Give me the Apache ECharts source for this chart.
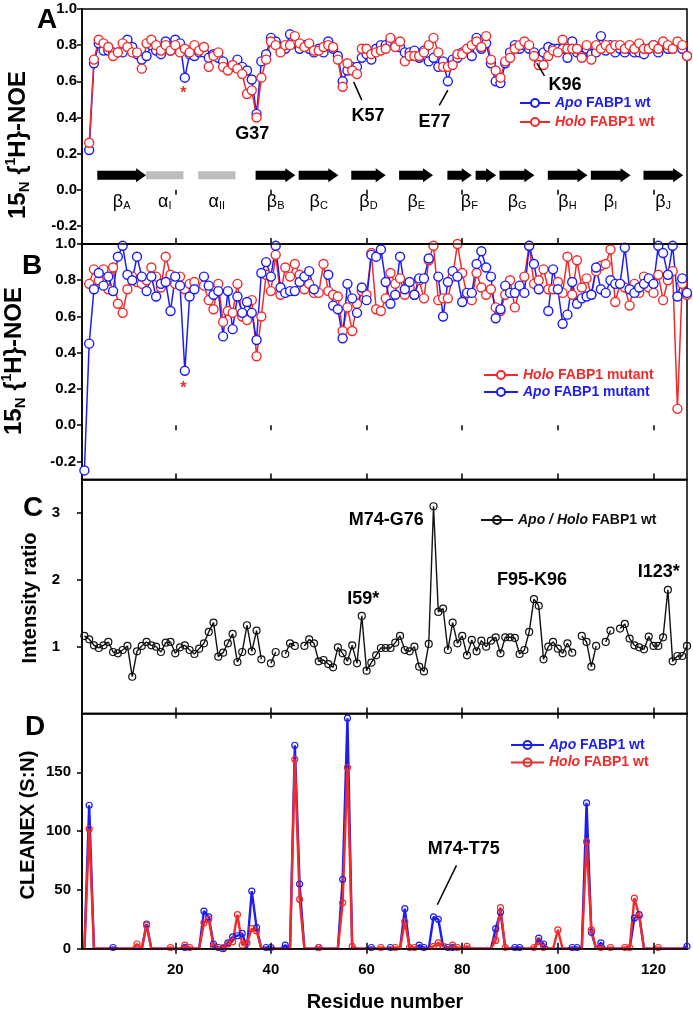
<!DOCTYPE html>
<html><head><meta charset="utf-8">
<script src="https://cdn.jsdelivr.net/npm/echarts@6/dist/echarts.min.js"></script>
<style>html,body{margin:0;padding:0;background:#fff}#c{width:693px;height:1012px}</style>
</head><body><div id="c"></div>
<script>
// ---------- DATA ----------
const residues = Array.from({length:127}, (_, i) => i + 1);
const xTicks = [20, 40, 60, 80, 100, 120];
const noeTicks = [-0.2, 0, 0.2, 0.4, 0.6, 0.8, 1.0];
const ratioTicks = [1, 2, 3];
const cleanexTicks = [0, 50, 100, 150];

const noeApoWt = [
 null,0.22,0.70,0.81,0.77,0.77,0.76,0.76,0.76,0.83,
 0.79,0.75,0.72,0.74,0.80,0.77,0.75,0.82,0.77,0.83,
 0.81,0.62,0.75,0.74,0.76,0.76,0.73,0.75,0.73,0.71,
 0.67,0.68,0.72,0.68,0.66,0.61,0.42,0.71,0.75,0.84,
 0.82,0.79,0.78,0.86,0.81,0.78,0.80,0.78,0.76,0.78,
 0.76,0.82,0.78,0.74,0.60,0.66,0.68,0.68,0.73,0.75,
 0.72,0.78,0.80,0.80,0.82,0.80,0.79,0.76,0.76,0.77,
 0.73,0.77,0.71,0.73,0.68,0.71,0.60,0.72,0.73,0.76,
 0.77,0.74,0.84,0.78,0.81,0.70,0.60,0.59,0.70,0.76,
 0.80,0.78,0.80,0.78,0.76,0.72,0.76,0.79,0.78,0.78,
 0.78,0.73,0.82,0.76,0.74,0.78,0.75,0.76,0.85,0.77,
 0.80,0.76,0.78,0.76,0.78,0.76,0.76,0.75,0.78,0.80,
 0.76,0.80,0.78,0.78,0.80,0.78,0.74];
const noeHoloWt = [
 null,0.26,0.72,0.83,0.81,0.79,0.74,0.76,0.81,0.79,
 0.76,0.76,0.67,0.81,0.83,0.80,0.77,0.80,0.77,0.80,
 0.76,0.78,0.76,0.80,0.77,0.79,0.68,0.74,0.76,0.68,
 0.66,0.69,0.67,0.64,0.53,0.55,0.40,0.62,0.72,0.82,
 0.80,0.76,0.80,0.80,0.85,0.81,0.79,0.81,0.77,0.77,
 0.79,0.80,0.79,0.72,0.57,0.70,0.66,0.64,0.78,0.78,
 0.75,0.76,0.77,0.78,0.84,0.79,0.82,0.71,0.74,0.74,
 0.74,0.76,0.80,0.84,0.76,0.68,0.68,0.69,0.75,0.75,
 0.78,0.80,0.82,0.79,0.85,0.72,0.66,0.62,0.71,0.73,
 0.78,0.80,0.82,0.80,0.74,0.69,0.69,0.74,0.77,0.76,
 0.83,0.78,0.78,0.78,0.73,0.80,0.72,0.80,0.78,0.80,
 0.78,0.80,0.80,0.78,0.80,0.78,0.81,0.78,0.78,0.80,
 0.78,0.82,0.80,0.78,0.82,0.80,0.74];
const noeHoloMut = [
 null,0.78,0.86,0.80,0.86,0.75,0.87,0.67,0.62,0.75,
 0.82,0.79,0.78,0.80,0.87,0.82,0.76,0.93,0.83,0.78,
 0.82,0.75,0.78,0.79,null,0.77,0.69,0.64,0.78,0.57,
 0.63,0.62,0.78,0.60,0.58,0.69,0.38,0.60,0.83,0.74,
 0.94,0.72,0.87,0.82,0.89,0.83,0.75,0.78,0.73,0.73,
 0.89,0.74,0.72,0.71,0.52,0.65,0.52,0.67,0.74,0.72,
 0.95,0.64,0.63,0.70,0.84,0.78,0.81,0.72,0.76,0.72,
 0.80,0.70,0.91,0.99,0.69,0.70,0.70,0.82,1.00,0.84,
 0.72,0.69,0.84,0.76,0.72,0.75,0.65,0.63,0.72,0.80,
 0.65,0.75,0.82,0.99,0.78,0.80,0.86,0.75,0.75,0.79,
 0.73,0.93,0.72,0.91,0.76,0.81,0.72,0.85,0.88,0.89,
 0.97,0.68,0.78,0.76,0.66,0.78,0.73,0.82,0.76,0.73,
 0.83,0.69,0.80,0.85,0.09,0.78,0.72];
const noeApoMut = [
 -0.25,0.45,0.75,0.84,0.77,0.82,0.74,0.93,0.99,0.83,
 0.80,0.93,0.82,0.74,0.82,0.71,0.78,0.79,0.63,0.82,
 0.77,0.30,0.71,0.75,null,0.82,0.77,0.72,0.74,0.49,
 0.74,0.53,0.71,0.62,0.68,0.62,0.47,0.84,0.90,0.82,
 0.99,0.76,0.73,0.74,0.74,0.79,0.82,0.85,0.75,null,
 null,0.83,0.66,0.64,0.48,0.78,0.70,0.62,0.76,0.69,
 0.94,0.93,0.97,0.79,0.67,0.72,0.93,0.75,0.79,0.72,
 0.81,0.81,0.92,null,0.82,0.60,0.79,0.85,0.82,0.68,
 0.73,0.73,0.89,0.96,0.87,0.82,0.59,0.64,0.77,0.73,
 0.73,0.77,0.73,0.99,0.89,0.75,null,0.63,0.86,0.75,
 0.56,0.61,0.79,0.67,0.70,0.71,0.72,0.87,0.75,0.73,
 0.80,0.78,0.78,0.98,0.75,0.73,0.76,0.78,0.81,0.78,
 0.99,0.95,0.83,0.99,0.71,0.81,0.73];
const intensityRatio = [
 1.16,1.11,1.02,0.98,1.02,1.07,0.92,0.90,0.95,1.01,
 0.55,0.93,1.01,1.07,1.02,1.00,0.92,1.06,1.07,0.90,
 0.99,1.02,0.95,0.89,0.97,1.05,1.22,1.36,0.85,0.91,
 1.05,1.19,0.77,0.92,1.32,0.93,1.24,0.81,null,0.75,
 0.92,null,0.89,1.05,1.01,null,1.01,1.11,1.05,0.78,
 0.80,0.74,0.69,0.99,0.90,0.78,1.02,0.75,1.46,0.64,
 0.76,0.87,0.98,0.98,0.98,1.06,1.16,0.95,0.93,1.00,
 0.70,0.63,1.04,3.10,1.52,1.57,0.95,1.36,1.05,1.16,
 0.87,1.10,0.93,1.09,1.00,1.09,1.14,0.90,1.14,1.14,
 1.13,0.89,0.95,1.22,1.71,1.61,0.81,1.00,1.07,0.97,
 0.90,1.05,0.91,null,1.16,1.07,0.70,1.01,null,1.07,
 1.24,null,1.27,1.34,1.12,1.02,0.99,0.96,1.15,1.01,
 1.01,1.14,1.85,0.78,0.86,0.86,1.01];
// null = no measurable exchange (drawn on the baseline without a marker)
const cleanexApo = [
 null,122,null,null,null,null,1,null,null,null,
 null,null,null,21,null,null,null,null,null,null,
 null,1,null,null,null,32,27,4,1,0,
 5,10,11,13,null,49,18,null,1,1,
 null,null,3,null,173,55,null,null,null,1,
 null,null,null,null,59,196,null,null,null,null,
 1,null,null,null,1,null,null,34,null,null,
 3,1,null,27,25,2,1,1,null,null,
 null,null,null,null,null,null,17,31,null,null,
 1,1,null,null,null,9,4,null,null,null,
 null,null,1,1,null,124,14,null,5,null,
 null,null,null,null,null,26,29,null,null,null,
 null,null,null,null,null,null,2];
const cleanexHolo = [
 null,102,null,null,null,null,null,null,null,null,
 null,4,null,20,null,null,null,null,1,null,
 null,3,1,null,null,22,25,2,null,1,
 4,6,29,3,5,17,15,null,null,null,
 null,null,null,null,161,42,null,null,null,1,
 null,null,null,null,39,154,2,null,null,null,
 null,null,1,null,null,1,null,23,1,1,
 null,null,null,2,5,2,null,3,1,null,
 2,null,null,null,null,null,7,35,1,null,
 null,null,null,null,1,6,1,null,null,16,
 null,null,null,null,null,91,16,null,1,null,
 1,null,null,1,1,43,28,null,null,null,
 1,null,null,null,null,null,null];
// secondary structure: [kind, first residue, last residue]
const ssSegments = [
 ['b',3.7,13.9],['a',13.9,21.7],['a',24.8,32.6],['b',36.8,45.1],['b',45.8,54.1],
 ['b',56.8,64],['b',66.8,73.9],['b',76.9,82],['b',82.8,87.1],['b',87.8,95.1],
 ['b',97.9,106.2],['b',106.9,115.2],['b',117.9,126.2]];
const ssLabels = [
 ['β','A',8.8],['α','I',17.8],['α','II',28.7],['β','B',41],['β','C',50],['β','D',60.4],
 ['β','E',70.4],['β','F',81.5],['β','G',91.5],['β','H',102],['β','I',111],['β','J',122]];

// ---------- LAYOUT / STYLE ----------
const BLUE = '#1d1df2', RED = '#f22a2a', INK = '#000';
const FONT = 'Arial, "Liberation Sans", sans-serif';
const GL = 82, GW = 605;
const grids = [
 {left:GL, width:GW, top:9, height:235},
 {left:GL, width:GW, top:244, height:235.5},
 {left:GL, width:GW, top:479.5, height:234},
 {left:GL, width:GW, top:713.5, height:235.2}
].map(g => Object.assign(g, {show:true, borderColor:'#000', borderWidth:1.5, backgroundColor:'transparent'}));

const lblStyle = {fontFamily:FONT, fontWeight:'bold', fontSize:15, color:'#000'};

const xAxes = [];
for (let gi = 0; gi < 4; gi++) {
  xAxes.push({type:'value', gridIndex:gi, min:0.5, max:127, position:'bottom', z:5,
    axisLine:{show:true, onZero:false, lineStyle:{color:'#000', width:1.5}},
    axisTick:{show:true, inside:true, length:6, customValues:xTicks, lineStyle:{color:'#000', width:1.5}},
    axisLabel:Object.assign({show:gi === 3, customValues:xTicks, margin:14}, lblStyle),
    splitLine:{show:false}});
}
for (let gi = 0; gi < 4; gi++) {
  xAxes.push({type:'value', gridIndex:gi, min:0.5, max:127, position:'top',
    axisLine:{show:false},
    axisTick:{show:true, inside:true, length:5, customValues:xTicks, lineStyle:{color:'#000', width:1.5}},
    axisLabel:{show:false}, splitLine:{show:false}});
}
function yAx(gi, min, max, ticks, margin, fmt) {
  return {type:'value', gridIndex:gi, min, max, position:'left',
    axisLine:{show:true, onZero:false, lineStyle:{color:'#000', width:1.5}},
    axisTick:{show:true, inside:false, length:5, customValues:ticks, lineStyle:{color:'#000', width:1.5}},
    axisLabel:Object.assign({customValues:ticks, margin, formatter:fmt}, lblStyle),
    splitLine:{show:false}};
}
const yAxes = [
 yAx(0, -0.3, 1.0, noeTicks, 5, v => v.toFixed(1)),
 yAx(1, -0.3, 1.0, noeTicks, 6, v => v.toFixed(1)),
 yAx(2, 0, 3.5, ratioTicks, 22, v => String(v)),
 yAx(3, 0, 200, cleanexTicks, 11, v => String(v))
];

function pts(arr) { return arr.map((v, i) => [residues[i], v == null ? '-' : v]); }
function noeSeries(name, arr, gi, color) {
  return {name, type:'line', xAxisIndex:gi, yAxisIndex:gi, data:pts(arr), color,
    symbol:'circle', symbolSize:9, showAllSymbol:true, connectNulls:false,
    itemStyle:{color:'#fff', borderColor:color, borderWidth:1.4},
    lineStyle:{color, width:1.5}, emphasis:{disabled:true}, animation:false};
}
function cleanexSeries(name, arr, color) {
  return {name, type:'line', xAxisIndex:3, yAxisIndex:3, color,
    data:arr.map((v, i) => v == null ? {value:[residues[i], 0], symbol:'none'} : [residues[i], v]),
    symbol:'circle', symbolSize:6, showAllSymbol:true,
    itemStyle:{color:'rgba(0,0,0,0)', borderColor:color, borderWidth:1.2},
    lineStyle:{color, width:2.4}, emphasis:{disabled:true}, animation:false};
}
function textSeries(gi, items, fontSize, color) {
  return {type:'scatter', xAxisIndex:gi, yAxisIndex:gi, symbolSize:0, silent:true, animation:false, z:6,
    itemStyle:{opacity:1},
    data:items.map(t => ({name:t[0], value:[t[1], t[2]]})),
    label:{show:true, position:'inside', formatter:'{b}', fontFamily:FONT, fontWeight:'bold', fontSize, color, opacity:1}};
}
function pointerSeries(gi, segs) {
  return {type:'lines', coordinateSystem:'cartesian2d', xAxisIndex:gi, yAxisIndex:gi, silent:true, animation:false, z:6,
    data:segs.map(s => ({coords:[[s[0], s[1]], [s[2], s[3]]]})),
    lineStyle:{color:INK, width:1.5, opacity:1}};
}
const SS_Y = 0.08, SS_LABEL_Y = -0.065;
const ssSeries = {type:'custom', xAxisIndex:0, yAxisIndex:0, silent:true, animation:false,
  data:ssSegments.map(s => [s[1], s[2], s[0] === 'b' ? 1 : 0]),
  renderItem(params, api) {
    const s = api.coord([api.value(0), SS_Y]), e = api.coord([api.value(1), SS_Y]);
    const y = s[1];
    if (api.value(2) === 1) {
      const bh = 4.5, hh = 7, hl = 10;
      return {type:'polygon', shape:{points:[[s[0], y-bh],[e[0]-hl, y-bh],[e[0]-hl, y-hh],[e[0], y],[e[0]-hl, y+hh],[e[0]-hl, y+bh],[s[0], y+bh]]},
        style:{fill:'#000'}};
    }
    return {type:'rect', shape:{x:s[0], y:y-4, width:e[0]-s[0], height:8}, style:{fill:'#bdbdbd'}};
  }};
const ssLabelSeries = {type:'scatter', xAxisIndex:0, yAxisIndex:0, symbolSize:0, silent:true, animation:false,
  itemStyle:{opacity:1},
  data:ssLabels.map(l => ({value:[l[2], SS_LABEL_Y], g:l[0], s:l[1]})),
  label:{show:true, position:'inside', opacity:1, formatter:p => `{g|${p.data.g}}{s|${p.data.s}}`,
    rich:{g:{fontFamily:FONT, fontSize:18, color:'#000', verticalAlign:'bottom', lineHeight:20},
          s:{fontFamily:FONT, fontSize:11, color:'#000', verticalAlign:'bottom', lineHeight:16}}}};

const series = [
  noeSeries('Apo FABP1 wt', noeApoWt, 0, BLUE),
  noeSeries('Holo FABP1 wt', noeHoloWt, 0, RED),
  ssSeries, ssLabelSeries,
  textSeries(0, [['G37',36.1,0.31],['K57',60.3,0.41],['E77',74.2,0.376],['K96',101.5,0.578]], 18, INK),
  textSeries(0, [['*',21.7,0.53]], 16, RED),
  pointerSeries(0, [[57.3,0.597,59.0,0.496],[77.0,0.551,75.2,0.467],[95.6,0.70,97.2,0.63]]),
  noeSeries('Holo FABP1 mutant', noeHoloMut, 1, RED),
  noeSeries('Apo FABP1 mutant', noeApoMut, 1, BLUE),
  textSeries(1, [['*',21.7,0.20]], 16, RED),
  {name:'Apo / Holo FABP1 wt', type:'line', xAxisIndex:2, yAxisIndex:2, data:pts(intensityRatio), color:'#111',
    symbol:'circle', symbolSize:7, showAllSymbol:true, connectNulls:false,
    itemStyle:{color:'rgba(0,0,0,0)', borderColor:'#111', borderWidth:1.2},
    lineStyle:{color:'#111', width:1.4}, emphasis:{disabled:true}, animation:false},
  textSeries(2, [['M74-G76',64.1,2.9],['I59*',59.3,1.71],['F95-K96',94.6,2.0],['I123*',121.1,2.12]], 18, INK),
  cleanexSeries('Apo FABP1 wt#D', cleanexApo, BLUE),
  cleanexSeries('Holo FABP1 wt#D', cleanexHolo, RED),
  textSeries(3, [['M74-T75',80.3,85]], 18, INK),
  pointerSeries(3, [[78.8,70.8,74.8,37.4]])
];

function legItem(name, color) {
  const base = {fontFamily:FONT, fontWeight:'bold', fontSize:14, color, lineHeight:16};
  return {name, textStyle:Object.assign({}, base, {rich:{
    i:Object.assign({}, base, {fontStyle:'italic'}), n:Object.assign({}, base)}})};
}
function legFmt(name) {
  const disp = name.replace(/#.*$/, '');
  const m = disp.match(/^(Apo \/ Holo|Apo|Holo)(.*)$/);
  return `{i|${m[1]}}{n|${m[2]}}`;
}
function legend(left, top, w, gap, items) {
  return {left, top, orient:'vertical', itemWidth:w, itemHeight:10, itemGap:gap, selectedMode:false,
    formatter:legFmt, data:items, padding:0};
}
const legends = [
  legend(519, 95, 30, 3, [legItem('Apo FABP1 wt', BLUE), legItem('Holo FABP1 wt', RED)]),
  legend(483, 367, 34, 1, [legItem('Holo FABP1 mutant', RED), legItem('Apo FABP1 mutant', BLUE)]),
  legend(480, 512, 32, 1, [legItem('Apo / Holo FABP1 wt', '#111')]),
  legend(510, 737, 33, 1.5, [legItem('Apo FABP1 wt#D', BLUE), legItem('Holo FABP1 wt#D', RED)])
];

const titleRich = {
  a:{fontFamily:FONT, fontWeight:'bold', fontSize:24, fill:'#000', verticalAlign:'middle', lineHeight:28},
  b:{fontFamily:FONT, fontWeight:'bold', fontSize:15, fill:'#000', verticalAlign:'bottom', lineHeight:28},
  c:{fontFamily:FONT, fontWeight:'bold', fontSize:14, fill:'#000', verticalAlign:'top', lineHeight:28}
};
function vtitle(x, y, text, rich, size) {
  return {type:'text', x, y, rotation:Math.PI/2, silent:true,
    style:{text, align:'center', verticalAlign:'middle', font:`bold ${size || 20}px ${FONT}`, fill:'#000', rich}};
}
function letter(x, y, t) {
  return {type:'text', x, y, silent:true, style:{text:t, align:'center', verticalAlign:'middle', font:`bold 28px ${FONT}`, fill:'#000'}};
}
// "15N {1H}-NOE": the closing brace is plain text after the rich "H" token
const noeTitle = '{a|15}{b|N}{a| {}{c|1}{a|H}}-NOE';
const graphic = [
  letter(47, 20, 'A'), letter(32, 266, 'B'), letter(33, 508, 'C'), letter(35, 727, 'D'),
  vtitle(18, 145, noeTitle, titleRich, 24),
  vtitle(14, 361, noeTitle, titleRich, 24),
  vtitle(30, 598, 'Intensity ratio'),
  vtitle(28, 825, 'CLEANEX (S:N)'),
  {type:'text', x:385, y:1002, silent:true, style:{text:'Residue number', align:'center', verticalAlign:'middle', font:`bold 20px ${FONT}`, fill:'#000'}}
];

const chart = echarts.init(document.getElementById('c'), null, {renderer:'canvas'});
chart.setOption({
  animation:false, backgroundColor:'#fff',
  grid:grids, xAxis:xAxes, yAxis:yAxes, legend:legends, series, graphic
});
</script></body></html>
